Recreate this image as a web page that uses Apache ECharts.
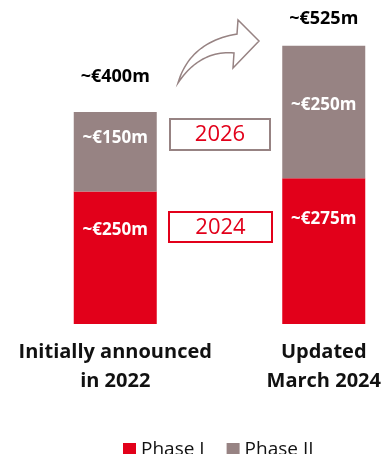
<!DOCTYPE html>
<html>
<head>
<meta charset="utf-8">
<script src="https://cdn.jsdelivr.net/npm/echarts@6/dist/echarts.min.js"></script>
<style>
  html, body { margin: 0; padding: 0; background: #fff; }
  #chart { width: 383px; height: 454px; }
</style>
</head>
<body>
<div id="chart"></div>
<script>
// Investment budget by phase (EUR millions)
const categories = ['Initially announced\nin 2022', 'Updated\nMarch 2024'];
const phase1 = [250, 275];
const phase2 = [150, 250];
const totals = [400, 525];
const yearTags = ['2026', '2024'];

const RED = '#e2001a';
const GREY = '#978383';
const FONT = '"Open Sans", "Noto Sans", sans-serif';

// label offsets from the top of each segment (px)
const phase1LabelTop = [39, 41];
const phase2LabelTop = [26, 59];
const totalLabelLift = [35, 27];

const money = v => '~€' + v + 'm';

const insideLabel = top => ({
  show: true,
  position: ['50%', top],
  align: 'center',
  verticalAlign: 'middle',
  color: '#fff',
  fontFamily: FONT,
  fontWeight: 'bold',
  fontSize: 17,
  formatter: p => money(p.value)
});

// sample a quadratic curve into polygon points
function quad(p0, c, p1, n) {
  const pts = [];
  for (let i = 0; i <= n; i++) {
    const t = i / n, u = 1 - t;
    pts.push([u * u * p0[0] + 2 * u * t * c[0] + t * t * p1[0],
              u * u * p0[1] + 2 * u * t * c[1] + t * t * p1[1]]);
  }
  return pts;
}
const arrowPoints = []
  .concat(quad([178, 83], [190, 42], [237, 34], 24))
  .concat([[238, 20], [259, 41], [233, 68]])
  .concat(quad([234, 53], [200, 50], [178, 83], 24));

const chart = echarts.init(document.getElementById('chart'), null, { renderer: 'canvas' });

chart.setOption({
  animation: false,
  grid: { left: 11, width: 417, top: 6, bottom: 130, outerBoundsMode: 'none', containLabel: false },
  xAxis: {
    type: 'category',
    data: categories,
    axisLine: { show: false },
    axisTick: { show: false },
    axisLabel: {
      color: '#111',
      fontFamily: FONT,
      fontWeight: 'bold',
      fontSize: 20,
      lineHeight: 29,
      margin: 14,
      interval: 0
    }
  },
  yAxis: { type: 'value', min: 0, max: 600, show: false },
  legend: {
    data: ['Phase I', 'Phase II'],
    left: 118,
    top: 435,
    itemWidth: 13,
    itemHeight: 13,
    itemGap: 22,
    icon: 'rect',
    textStyle: { fontFamily: FONT, fontSize: 19, color: '#111' }
  },
  series: [
    {
      name: 'Phase I',
      type: 'bar',
      stack: 'total',
      barWidth: 83,
      itemStyle: { color: RED },
      data: phase1.map((v, i) => ({ value: v, label: insideLabel(phase1LabelTop[i]) }))
    },
    {
      name: 'Phase II',
      type: 'bar',
      stack: 'total',
      barWidth: 83,
      itemStyle: { color: GREY },
      data: phase2.map((v, i) => ({ value: v, label: insideLabel(phase2LabelTop[i]) }))
    },
    {
      name: 'Total',
      type: 'scatter',
      symbolSize: 0,
      silent: true,
      itemStyle: { opacity: 1 },
      data: totals.map((v, i) => ({
        value: v,
        label: {
          show: true,
          position: 'inside',
          offset: [0, -totalLabelLift[i]],
          color: '#000',
          fontFamily: FONT,
          fontWeight: 'bold',
          fontSize: 18,
          formatter: p => money(p.value)
        }
      }))
    }
  ],
  graphic: [
    // growth arrow between the two columns
    {
      type: 'polygon',
      shape: { points: arrowPoints },
      style: { fill: '#fff', stroke: GREY, lineWidth: 1.5 }
    },
    // completion-year tags
    {
      type: 'rect',
      shape: { x: 170, y: 119, width: 100, height: 31 },
      style: { fill: '#fff', stroke: GREY, lineWidth: 2 }
    },
    {
      type: 'text',
      x: 220, y: 135,
      style: { text: yearTags[0], fill: RED, fontFamily: FONT, fontSize: 22,
               align: 'center', verticalAlign: 'middle' }
    },
    {
      type: 'rect',
      shape: { x: 169, y: 212, width: 103, height: 30 },
      style: { fill: '#fff', stroke: RED, lineWidth: 2 }
    },
    {
      type: 'text',
      x: 220.5, y: 228,
      style: { text: yearTags[1], fill: RED, fontFamily: FONT, fontSize: 22,
               align: 'center', verticalAlign: 'middle' }
    }
  ]
});
</script>
</body>
</html>
